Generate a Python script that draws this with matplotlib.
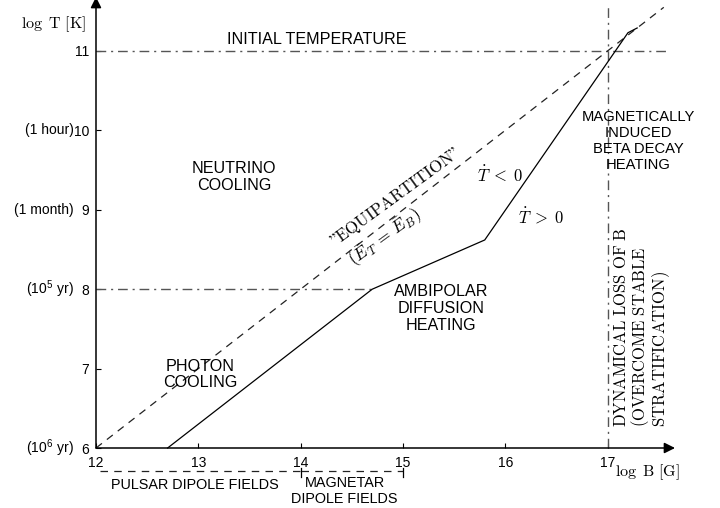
import matplotlib.pyplot as plt

plt.rcParams['font.family'] = ['Liberation Sans', 'DejaVu Sans']
plt.rcParams['mathtext.fontset'] = 'cm'

# axis ticks
b_ticks = [12, 13, 14, 15, 16, 17]
t_ticks = [6, 7, 8, 9, 10, 11]
time_ticks = [10, 9, 8, 6]
time_labels = ['(1 hour)', '(1 month)', r'(10$^{\mathregular{5}}$ yr)', r'(10$^{\mathregular{6}}$ yr)']

# "equipartition" line and the evolutionary track
equip_B = [12.0, 17.55]
equip_T = [6.0, 11.55]
track_B = [12.7, 14.7, 15.8, 17.2, 17.29]
track_T = [6.0, 8.0, 8.62, 11.23, 11.29]

# reference lines
initial_T = 11
initial_B = [12.0, 17.6]
ambi_T = 8
ambi_B = [12.0, 14.7]
loss_B = 17
loss_T = [6.0, 11.55]

# field ranges below the axis
pulsar_B = [12.04, 14.0]
magnetar_B = [14.0, 15.0]
range_T = 5.71

dashdot = (0, (7, 3.5, 1.5, 3.5))
dashed = (0, (6, 5))
gray = '#555555'

fig = plt.figure(figsize=(7.2, 5.08), dpi=100)
ax = fig.add_axes([96 / 720, 60 / 508, 624 / 720, 448 / 508])
ax.set_xlim(12, 12 + 624 / 102.3)
ax.set_ylim(6, 6 + 448 / 79.4)
for s in ax.spines.values():
    s.set_visible(False)

ax.set_xticks(b_ticks)
ax.set_yticks(t_ticks)
ax.tick_params(direction='in', length=3.6, width=0.8, labelsize=10, pad=5.5, color='k')
ax.tick_params(axis='y', pad=5)

# axes arrows
arrow = dict(arrowstyle='-|>', mutation_scale=16, lw=1.1, color='k', shrinkA=0, shrinkB=0)
ax.annotate('', xy=(17.66, 6), xytext=(12, 6), arrowprops=arrow, annotation_clip=False)
ax.annotate('', xy=(12, 11.68), xytext=(12, 6), arrowprops=arrow, annotation_clip=False)

# reference lines
ax.plot(initial_B, [initial_T, initial_T], color=gray, lw=1.0, ls=dashdot)
ax.plot(ambi_B, [ambi_T, ambi_T], color=gray, lw=1.0, ls=dashdot)
ax.plot([loss_B, loss_B], loss_T, color=gray, lw=1.0, ls=dashdot, clip_on=False)

ax.plot(equip_B, equip_T, color='#222222', lw=0.9, ls=dashed, clip_on=False)
ax.plot(track_B, track_T, color='k', lw=0.9, clip_on=False)

# field range brackets
ax.plot(pulsar_B, [range_T, range_T], color='#222222', lw=0.9, ls=dashed, clip_on=False)
ax.plot(magnetar_B, [range_T, range_T], color='#222222', lw=0.9, ls=dashed, clip_on=False)
for b in [14.0, 15.0]:
    ax.plot([b, b], [range_T + 0.04, range_T - 0.08], color='k', lw=0.9, clip_on=False)

# labels
for t, lab in zip(time_ticks, time_labels):
    ax.text(11.785, t, lab, ha='right', va='center', fontsize=10)

ax.text(11.58, 11.34, r'$\log\ \mathrm{T}\ [\mathrm{K}]$', ha='center', va='center', fontsize=11.5)
ax.text(17.07, 5.69, r'$\log\ \mathrm{B}\ [\mathrm{G}]$', ha='left', va='center', fontsize=11.5)

ax.text(14.16, 11.14, 'INITIAL TEMPERATURE', ha='center', va='center', fontsize=11.6)
ax.text(13.35, 9.41, 'NEUTRINO\nCOOLING', ha='center', va='center', fontsize=11.6, linespacing=1.15)
ax.text(13.02, 6.93, 'PHOTON\nCOOLING', ha='center', va='center', fontsize=11.6, linespacing=1.1)
ax.text(15.37, 7.76, 'AMBIPOLAR\nDIFFUSION\nHEATING', ha='center', va='center', fontsize=11.6, linespacing=1.15)
ax.text(17.30, 9.87, 'MAGNETICALLY\nINDUCED\nBETA DECAY\nHEATING', ha='center', va='center',
        fontsize=10.6, linespacing=1.18)
ax.text(12.97, 5.53, 'PULSAR DIPOLE FIELDS', ha='center', va='center', fontsize=10.4)
ax.text(14.43, 5.46, 'MAGNETAR\nDIPOLE FIELDS', ha='center', va='center', fontsize=10.4, linespacing=1.17)

ax.text(15.72, 9.44, r'$\dot{T}\;<\;0$', ha='left', va='center', fontsize=12)
ax.text(16.125, 8.91, r'$\dot{T}\;>\;0$', ha='left', va='center', fontsize=12)

ax.text(14.93, 9.16, '$\\mathrm{\u201dEQUIPARTITION\u201d}$',
        ha='center', va='center', rotation=36, rotation_mode='anchor', fontsize=12)
ax.text(14.825, 8.651, r'$(\bar{E}_T\, =\, \bar{E}_B)$',
        ha='center', va='center', rotation=36, rotation_mode='anchor', fontsize=12.5)

ax.text(17.05, 6.26, r'$\mathrm{DYNAMICAL\ LOSS\ OF\ B}$' + '\n' +
        r'$\mathrm{(OVERCOME\ STABLE}$' + '\n' + r'$\mathrm{STRATIFICATION)}$',
        ha='left', va='bottom', rotation=90, multialignment='left', fontsize=12, linespacing=1.0)

fig.savefig('out.png', dpi=100)
